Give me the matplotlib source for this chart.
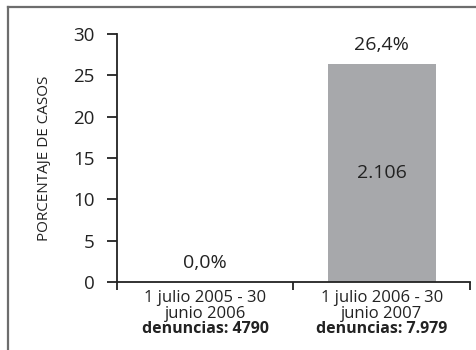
import matplotlib
matplotlib.use("Agg")
import matplotlib.pyplot as plt
from matplotlib.lines import Line2D

periodos = ["1 julio 2005 - 30\njunio 2006", "1 julio 2006 - 30\njunio 2007"]
denuncias = ["4790", "7.979"]
porcentajes = [0.0, 26.4]
casos = [None, "2.106"]
yticks = [0, 5, 10, 15, 20, 25, 30]

plt.rcParams["font.family"] = ["Open Sans", "DejaVu Sans"]

fig = plt.figure(figsize=(4.77, 3.5), dpi=100)
ax = fig.add_axes([0.2453, 0.1943, 0.7400, 0.7086])

x = list(range(len(periodos)))
ax.bar(x, porcentajes, width=0.61, color="#a7a8ab", zorder=2)

for xi, p, c in zip(x, porcentajes, casos):
    ax.text(xi, p + 1.2, f"{p:.1f}%".replace(".", ","), ha="center", va="bottom",
            fontsize=14, color="#222222")
    if c is not None:
        ax.text(xi, p / 2, c, ha="center", va="center", fontsize=14, color="#222222")

ax.set_xlim(-0.5, 1.5)
ax.set_ylim(0, 30)
ax.set_yticks(yticks)
ax.set_yticklabels([str(t) for t in yticks], fontsize=13.5, color="#222222")
ax.tick_params(axis="y", length=7, width=1.3, pad=9, color="#222222")

ax.set_xticks([-0.5, 0.5, 1.5])
ax.set_xticklabels([])
ax.tick_params(axis="x", direction="out", length=6, width=1.3, color="#222222")

# category labels: one text per line, stacked below the axis
for xi, per, d in zip(x, periodos, denuncias):
    lineas = per.split("\n") + [f"denuncias: {d}"]
    for i, linea in enumerate(lineas):
        negrita = i == len(lineas) - 1
        ax.annotate(linea, xy=(xi, 0), xycoords=("data", "axes fraction"),
                    xytext=(0, -11.5 - 11.2 * i), textcoords="offset points",
                    ha="center", va="center",
                    fontsize=11.5 if negrita else 12,
                    fontweight="bold" if negrita else "normal", color="#222222")

ax.set_ylabel("PORCENTAJE DE CASOS", fontsize=11, color="#222222", labelpad=15)

for s in ["top", "right"]:
    ax.spines[s].set_visible(False)
for s in ["left", "bottom"]:
    ax.spines[s].set_linewidth(1.3)
    ax.spines[s].set_color("#222222")

# outer frame on the top and left edges
fw, fh = 477, 350
fig.add_artist(Line2D([8 / fw, 1], [1 - 7 / fh, 1 - 7 / fh], color="#6d6d6d", lw=1.6))
fig.add_artist(Line2D([8 / fw, 8 / fw], [0, 1 - 7 / fh], color="#6d6d6d", lw=1.6))

fig.savefig("out.png", dpi=100)
